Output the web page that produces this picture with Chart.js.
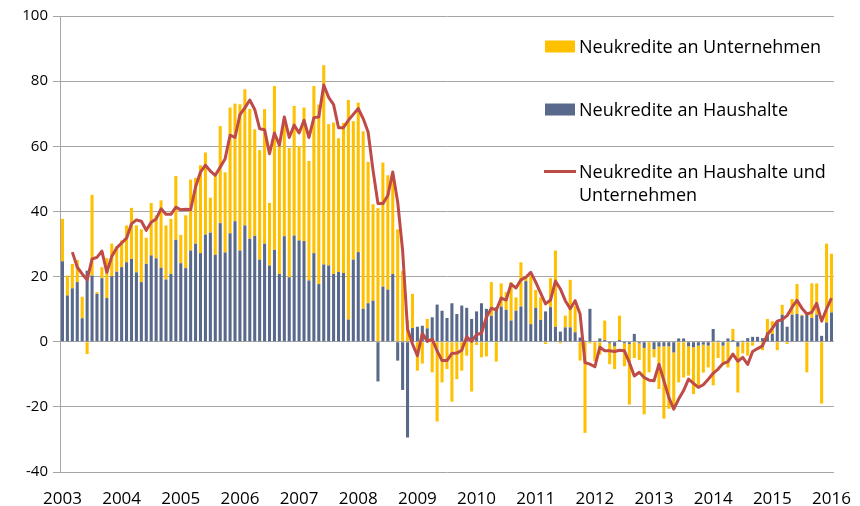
<!DOCTYPE html>
<html>
<head>
<meta charset="utf-8">
<script src="https://cdn.jsdelivr.net/npm/chart.js@4.4.1/dist/chart.umd.min.js"></script>
<style>
  html, body { margin: 0; padding: 0; background: #fff; }
  #wrap { width: 860px; height: 506px; }
</style>
</head>
<body>
<div id="wrap"><canvas id="kredit-chart" width="860" height="506"></canvas></div>
<script>
// Neukredite, Monatswerte Jan 2003 - Jan 2016
var years = ['2003', '2004', '2005', '2006', '2007', '2008', '2009', '2010', '2011', '2012', '2013', '2014', '2015', '2016'];
var yTicks = [-40, -20, 0, 20, 40, 60, 80, 100];

var haushalte = [
  24.7, 14.2, 16.4, 18.3, 7.2, 21.8, 20.3, 14.7, 19.5, 13.4,
  20.1, 21.5, 22.9, 24.4, 25.4, 21.3, 18.3, 23.9, 26.5, 25.6,
  22.7, 19.1, 20.8, 31.3, 24.1, 22.6, 28.0, 30.1, 27.2, 32.9,
  33.5, 26.7, 36.4, 27.4, 33.3, 37.0, 28.0, 35.7, 31.6, 32.5,
  25.2, 30.1, 23.4, 28.2, 20.8, 32.4, 19.8, 32.6, 31.1, 30.9,
  18.8, 27.2, 17.7, 23.7, 23.4, 20.8, 21.4, 21.1, 6.8, 25.2,
  27.5, 10.1, 11.8, 12.6, -12.2, 16.9, 16.0, 20.8, -5.8, -14.8,
  -29.4, 4.2, 4.6, 4.9, 4.1, 7.5, 11.4, 9.5, 7.3, 11.8,
  8.5, 11.1, 10.4, 7.0, 9.3, 11.8, 10.1, 8.0, 10.6, 10.8,
  9.8, 6.5, 9.5, 10.8, 18.6, 5.4, 10.4, 6.7, 9.3, 10.6,
  4.6, 3.1, 4.4, 4.4, 2.9, 1.3, 0.3, 10.1, 0.0, 1.0,
  0.5, -0.5, -1.4, 0.5, -0.5, -0.7, 2.4, -0.5, -1.9, 0.0,
  -2.3, -1.5, -1.4, -1.4, -3.3, 1.0, 1.0, -1.4, -1.7, -1.2,
  -0.9, -1.2, 3.9, 0.3, -1.2, 1.0, 0.5, -1.5, 0.3, 1.1,
  1.5, 1.5, 1.1, 2.9, 2.4, 6.3, 8.3, 4.6, 8.3, 8.5,
  8.0, 8.4, 7.3, 8.3, 1.8, 5.9, 9.0
];

var unternehmen = [
  13.0, 6.1, 7.5, 6.8, 6.6, -3.8, 24.8, 0.5, 3.4, 12.3,
  10.0, 7.7, 8.2, 11.3, 15.7, 14.4, 16.2, 8.0, 16.1, 13.2,
  20.7, 16.6, 16.9, 19.6, 8.7, 16.2, 21.8, 20.2, 27.0, 25.2,
  10.7, 24.2, 29.8, 24.6, 38.6, 36.1, 44.9, 41.8, 39.9, 32.7,
  33.6, 41.3, 19.2, 50.3, 39.2, 36.3, 39.7, 39.8, 29.0, 41.0,
  36.7, 51.3, 55.1, 61.2, 43.4, 46.5, 41.1, 46.1, 67.4, 42.5,
  45.9, 54.5, 43.4, 29.6, 41.0, 38.1, 35.1, 29.4, 34.5, 21.8,
  6.5, 10.5, -8.9, -6.7, 2.9, -9.4, -24.5, -12.5, -8.4, -18.4,
  -11.5, -8.9, -4.3, -15.3, -1.0, -4.8, -4.5, 10.3, -6.1, 7.1,
  5.4, 11.8, 4.1, 13.6, 1.2, 14.9, 5.5, 6.9, -0.7, 8.9,
  23.4, -0.5, 3.6, 14.6, 8.1, -5.8, -28.0, -0.5, -6.0, -4.0,
  6.0, -6.4, -7.0, 7.5, -7.0, -18.6, -5.0, -5.1, -20.4, -9.4,
  -2.5, -13.0, -22.2, -19.2, -17.4, -12.5, -11.0, -9.0, -14.4, -12.3,
  -8.6, -6.7, -13.4, -5.0, -5.2, -7.9, 3.4, -14.1, -3.6, -4.3,
  -1.2, 0.0, -2.6, 4.1, 3.9, -2.6, 3.0, -0.7, 4.8, 9.2,
  0.3, -9.4, 10.6, 9.6, -19.0, 24.2, 18.0
];

// Haushalte und Unternehmen (gleitender 3-Monats-Wert)
var gesamt = [
  null, null, 27.5, 22.9, 20.8, 19.0, 25.4, 25.9, 27.8, 21.3,
  26.2, 28.8, 30.3, 31.8, 36.2, 37.4, 37.0, 34.2, 36.7, 37.7,
  40.8, 39.1, 39.1, 41.3, 40.5, 40.7, 40.5, 47.5, 52.1, 54.2,
  52.4, 51.1, 53.6, 56.2, 63.4, 62.7, 69.7, 71.8, 74.2, 71.3,
  65.4, 65.1, 57.7, 64.1, 60.3, 69.0, 62.7, 66.5, 64.1, 68.0,
  62.7, 68.8, 69.0, 78.8, 75.0, 72.8, 65.7, 65.7, 68.0, 69.8,
  71.6, 68.5, 64.4, 52.6, 42.4, 42.4, 44.9, 52.1, 42.9, 28.0,
  3.9, -0.7, -4.3, 2.6, 0.1, 0.8, -2.8, -5.8, -5.8, -3.6,
  -3.5, -2.6, 1.5, 0.1, 2.2, 2.6, 7.5, 10.3, 9.7, 13.4,
  12.8, 17.7, 16.5, 19.0, 19.8, 21.3, 18.3, 14.9, 11.6, 12.8,
  18.6, 16.2, 12.6, 10.1, 12.6, 8.5, -6.4, -6.9, -7.7, -1.7,
  -2.8, -2.8, -3.0, -2.6, -2.8, -6.4, -10.5, -9.4, -11.0, -11.8,
  -12.0, -6.9, -12.0, -17.1, -20.7, -17.6, -15.0, -11.5, -12.8, -14.0,
  -13.2, -11.5, -9.7, -8.4, -6.7, -6.1, -3.8, -6.0, -4.8, -7.0,
  -3.0, -2.1, -1.3, 2.2, 4.1, 6.3, 6.8, 8.0, 10.6, 12.7,
  10.3, 8.5, 9.0, 11.8, 6.3, 10.1, 13.4
];

var names = ['Neukredite an Unternehmen', 'Neukredite an Haushalte', 'Neukredite an Haushalte und Unternehmen'];

// one category per month, year label on each January
var labels = [];
years.forEach(function(y) {
  for (var m = 0; m < 12; m++) labels.push(m === 0 ? y : '');
});
labels = labels.slice(0, haushalte.length);

Chart.defaults.font.family = '"Open Sans", sans-serif';
Chart.defaults.color = '#000';

// legend drawn in the upper right of the plot, like the original
var boxLegend = {
  id: 'boxLegend',
  afterDraw: function(chart) {
    var ctx = chart.ctx;
    var ds = chart.data.datasets;
    var items = [ds[1], ds[0], ds[2]];
    var rows = [46.5, 109.5, 171.5];
    var bx = 545, tx = 579, maxW = 275;
    ctx.save();
    ctx.font = '18px "Open Sans"';
    ctx.fillStyle = '#000';
    ctx.textBaseline = 'alphabetic';
    items.forEach(function(d, k) {
      var y = rows[k];
      if (d.type === 'line') {
        ctx.strokeStyle = d.borderColor;
        ctx.lineWidth = 3;
        ctx.beginPath();
        ctx.moveTo(bx - 1, y);
        ctx.lineTo(bx + 31, y);
        ctx.stroke();
      } else {
        ctx.fillStyle = d.backgroundColor;
        ctx.fillRect(bx, y - 6, 30, 12);
      }
      // simple word wrap
      var words = d.label.split(' ');
      var lines = [], cur = '';
      words.forEach(function(w) {
        var test = cur ? cur + ' ' + w : w;
        if (ctx.measureText(test).width > maxW && cur) {
          lines.push(cur);
          cur = w;
        } else {
          cur = test;
        }
      });
      lines.push(cur);
      ctx.fillStyle = '#000';
      lines.forEach(function(t, j) {
        ctx.fillText(t, tx, y + 6 + j * 23);
      });
    });
    ctx.restore();
  }
};

new Chart(document.getElementById('kredit-chart'), {
  type: 'bar',
  data: {
    labels: labels,
    datasets: [
      {
        label: names[1],
        data: haushalte,
        backgroundColor: '#58698b',
        borderWidth: 0,
        barPercentage: 0.62,
        categoryPercentage: 1,
        stack: 'kredite',
        order: 1
      },
      {
        label: names[0],
        data: unternehmen,
        backgroundColor: '#ffc000',
        borderWidth: 0,
        barPercentage: 0.62,
        categoryPercentage: 1,
        stack: 'kredite',
        order: 1
      },
      {
        type: 'line',
        label: names[2],
        data: gesamt,
        borderColor: '#be4b48',
        borderWidth: 3,
        pointRadius: 0,
        tension: 0,
        borderJoinStyle: 'round',
        stack: 'summe',
        order: 0
      }
    ]
  },
  plugins: [boxLegend],
  options: {
    responsive: false,
    animation: false,
    devicePixelRatio: 1,
    layout: {
      padding: { left: 0, right: 20, top: 16, bottom: 0 }
    },
    plugins: {
      legend: { display: false },
      tooltip: { enabled: false }
    },
    scales: {
      x: {
        stacked: true,
        offset: true,
        grid: { display: false },
        border: { display: false },
        ticks: {
          autoSkip: false,
          maxRotation: 0,
          minRotation: 0,
          padding: 9,
          font: { size: 17 }
        },
        afterFit: function(scale) { scale.height = 34; }
      },
      y: {
        stacked: true,
        min: yTicks[0],
        max: yTicks[yTicks.length - 1],
        grid: {
          color: '#a6a6a6',
          tickLength: 7
        },
        border: { display: true, color: '#a6a6a6' },
        ticks: {
          stepSize: yTicks[1] - yTicks[0],
          padding: 5,
          font: { size: 15 }
        },
        afterFit: function(scale) { scale.width = 60; }
      }
    }
  }
});
</script>
</body>
</html>
